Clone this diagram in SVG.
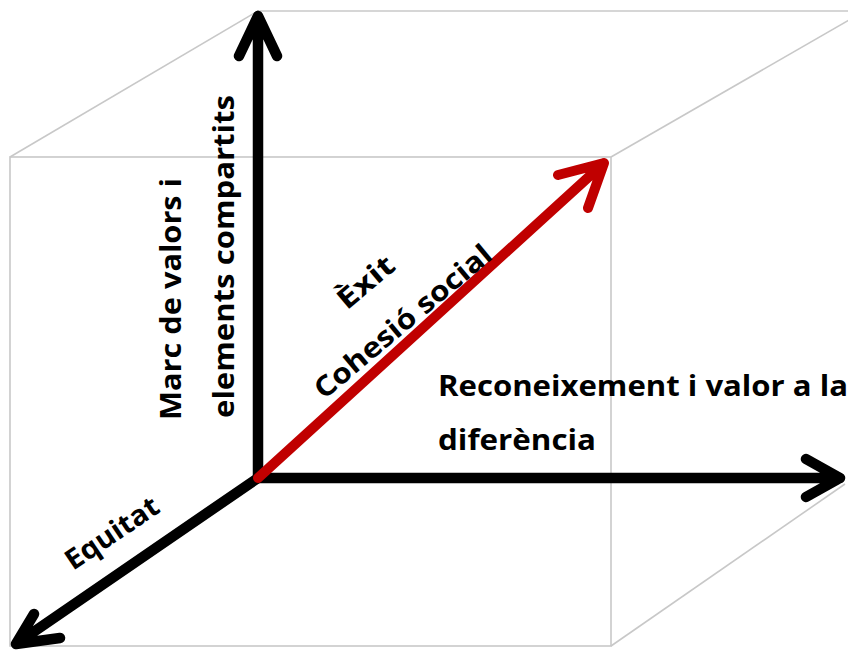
<svg xmlns="http://www.w3.org/2000/svg" width="848" height="655" viewBox="0 0 848 655">
<style>
.edge{fill:none;stroke:#c8c8c8;stroke-width:1.6}
.ax{fill:none;stroke:#000;stroke-width:10.5;stroke-linecap:round;stroke-linejoin:round}
.red{fill:none;stroke:#c00000;stroke-width:10;stroke-linecap:round;stroke-linejoin:round}
.lbl{font-family:"Open Sans","Liberation Sans",sans-serif;font-weight:700;font-size:28px;fill:#000}
</style>
<rect width="848" height="655" fill="#fff"/>
<g id="cube">
<rect class="edge" x="10" y="157" width="601" height="489"/>
<line class="edge" x1="258" y1="11" x2="848" y2="11"/>
<line class="edge" x1="10" y1="157" x2="258" y2="11"/>
<line class="edge" x1="611" y1="157" x2="870" y2="8"/>
<line class="edge" x1="611" y1="646" x2="845" y2="484"/>
<line class="edge" x1="258" y1="11" x2="258" y2="478"/>
</g>
<g id="connectors">
<path class="ax" d="M258,478 V16 M239,56 L258,16 L277,56"/>
<path class="ax" d="M258,478 H840 M806,459 L840,478 L806,497"/>
<path class="ax" d="M258,478 L16,644 M34,614 L16,644 L60,638"/>
<path class="red" d="M258,478 L604,163 M558,175 L604,163 L588,208"/>
</g>
<g id="label-vertical">
<text class="lbl" transform="translate(181,420) rotate(-90)" textLength="242" lengthAdjust="spacingAndGlyphs">Marc de valors i</text>
<text class="lbl" transform="translate(234,418) rotate(-90)" textLength="323" lengthAdjust="spacingAndGlyphs">elements compartits</text>
</g>
<g id="label-horizontal">
<text class="lbl" x="438" y="396" textLength="410" lengthAdjust="spacingAndGlyphs">Reconeixement i valor a la</text>
<text class="lbl" x="438" y="450" textLength="158" lengthAdjust="spacingAndGlyphs">diferència</text>
</g>
<g id="label-diagonal" transform="translate(409,329) rotate(-40)">
<text class="lbl" x="0" y="0" text-anchor="middle" textLength="222" lengthAdjust="spacingAndGlyphs">Cohesió social</text>
<text class="lbl" x="-3" y="-54" text-anchor="middle" textLength="66" lengthAdjust="spacingAndGlyphs">Èxit</text>
</g>
<g id="label-equitat">
<text class="lbl" transform="translate(73,571) rotate(-34)" textLength="107" lengthAdjust="spacingAndGlyphs">Equitat</text>
</g>
</svg>
